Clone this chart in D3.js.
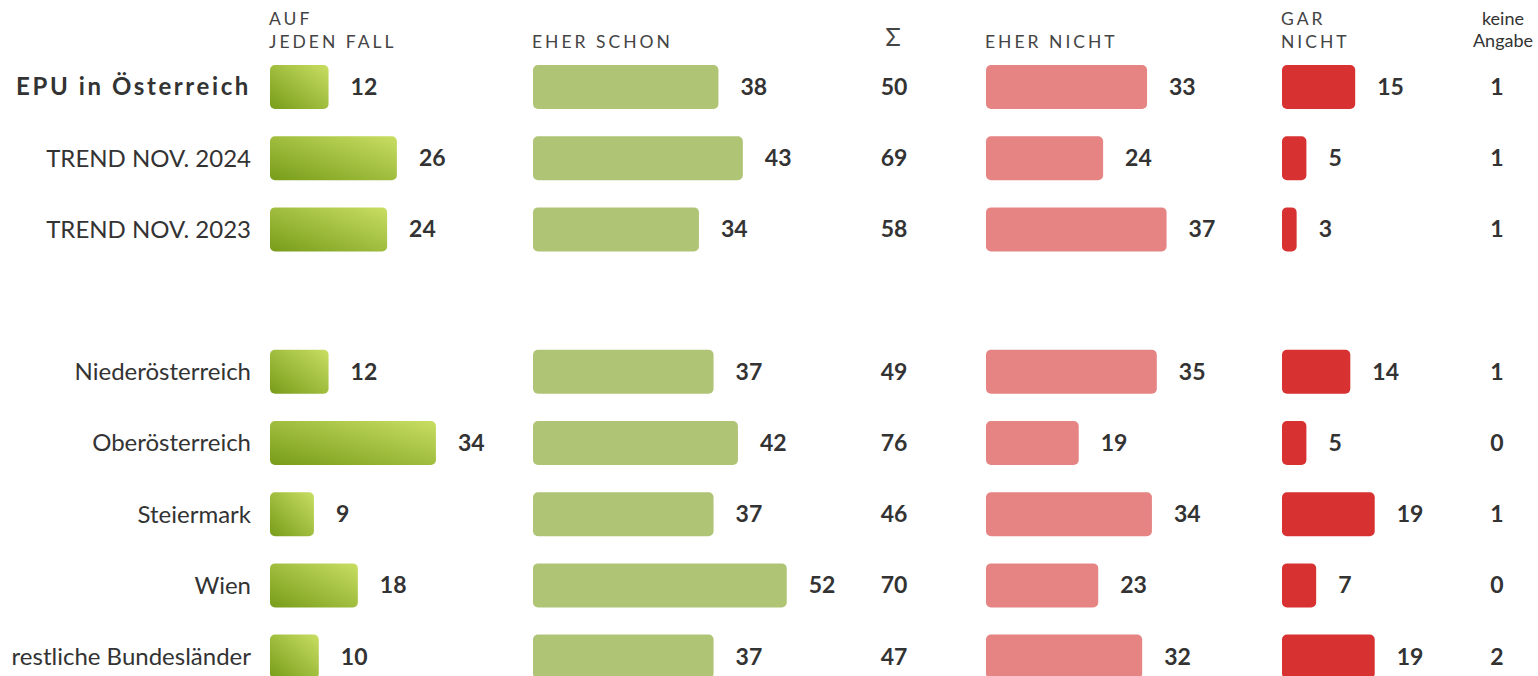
<!DOCTYPE html>
<html>
<head>
    <meta charset="UTF-8">
    <title>EPU Umfrage</title>
    <style>
        body {
            margin: 0;
            background-color: white;
            font-family: Lato, "Open Sans", sans-serif;
        }
        svg {
            display: block;
        }
        text {
            fill: #333;
        }
        .head {
            font-size: 17.5px;
            letter-spacing: 3px;
            fill: #444;
        }
        .rowlabel {
            font-size: 24px;
        }
        .val {
            font-size: 23px;
            font-weight: bold;
        }
    </style>
</head>
<body>
    <svg id="chart" width="1538" height="676"></svg>
    <script src="https://d3js.org/d3.v7.min.js"></script>
    <script>
        // Data
        var categories = ["EPU in Österreich", "TREND NOV. 2024", "TREND NOV. 2023", "",
            "Niederösterreich", "Oberösterreich", "Steiermark", "Wien", "restliche Bundesländer"];
        var aufJedenFall = [12, 26, 24, null, 12, 34, 9, 18, 10];
        var eherSchon = [38, 43, 34, null, 37, 42, 37, 52, 37];
        var summe = [50, 69, 58, null, 49, 76, 46, 70, 47];
        var eherNicht = [33, 24, 37, null, 35, 19, 34, 23, 32];
        var garNicht = [15, 5, 3, null, 14, 5, 19, 7, 19];
        var keineAngabe = [1, 1, 1, null, 1, 0, 1, 0, 2];

        var svg = d3.select("#chart");

        // one scale for all bar columns
        var x = d3.scaleLinear().domain([0, 100]).range([0, 488]);
        var y = d3.scaleBand().domain(d3.range(categories.length))
            .range([51.4, 692.2]).paddingInner(0.382).paddingOuter(0.191);

        // gradient for first column
        var defs = svg.append("defs");
        var grad = defs.append("linearGradient")
            .attr("id", "greenGrad")
            .attr("x1", "0%").attr("y1", "100%")
            .attr("x2", "100%").attr("y2", "0%");
        grad.append("stop").attr("offset", "0%").attr("stop-color", "#789c1a");
        grad.append("stop").attr("offset", "100%").attr("stop-color", "#c8de62");

        var columns = [
            { values: aufJedenFall, x0: 270, fill: "url(#greenGrad)", head: ["AUF", "JEDEN FALL"] },
            { values: eherSchon, x0: 533, fill: "#b0c476", head: ["EHER SCHON"] },
            { values: eherNicht, x0: 986, fill: "#e68383", head: ["EHER NICHT"] },
            { values: garNicht, x0: 1282, fill: "#d73131", head: ["GAR", "NICHT"] }
        ];

        // Headers
        columns.forEach(function(col) {
            var t = svg.append("text").attr("class", "head").attr("x", col.x0 - 1);
            col.head.forEach(function(line, i) {
                var off = col.head.length - 1 - i;
                t.append("tspan")
                    .attr("x", col.x0 - 1)
                    .attr("y", 48 - off * 23)
                    .text(line);
            });
        });

        svg.append("text")
            .attr("x", 893).attr("y", 46)
            .attr("text-anchor", "middle")
            .style("font-size", "25px")
            .style("fill", "#444")
            .text("Σ");

        svg.append("text")
            .attr("x", 1503).attr("y", 25)
            .attr("text-anchor", "middle")
            .style("font-size", "18px")
            .text("keine");
        svg.append("text")
            .attr("x", 1503).attr("y", 47)
            .attr("text-anchor", "middle")
            .style("font-size", "18px")
            .text("Angabe");

        // Row labels
        svg.selectAll("text.rowlabel")
            .data(categories)
            .enter().append("text")
            .attr("class", "rowlabel")
            .attr("x", 251)
            .attr("y", function(d, i) { return y(i) + y.bandwidth() / 2; })
            .attr("dy", "0.35em")
            .attr("text-anchor", "end")
            .style("font-weight", function(d, i) { return i === 0 ? "bold" : "normal"; })
            .style("letter-spacing", function(d, i) { return i === 0 ? "2.6px" : "0px"; })
            .text(function(d) { return d; });

        // Bars and value labels
        columns.forEach(function(col) {
            var g = svg.append("g");
            var rows = col.values.map(function(v, i) { return { v: v, i: i }; })
                .filter(function(d) { return d.v !== null; });

            g.selectAll("rect")
                .data(rows)
                .enter().append("rect")
                .attr("x", col.x0)
                .attr("y", function(d) { return y(d.i); })
                .attr("width", function(d) { return x(d.v); })
                .attr("height", y.bandwidth())
                .attr("rx", 5).attr("ry", 5)
                .attr("fill", col.fill);

            g.selectAll("text")
                .data(rows)
                .enter().append("text")
                .attr("class", "val")
                .attr("x", function(d) { return col.x0 + x(d.v) + 22; })
                .attr("y", function(d) { return y(d.i) + y.bandwidth() / 2; })
                .attr("dy", "0.35em")
                .text(function(d) { return d.v; });
        });

        // Sum and keine Angabe
        [[summe, 894], [keineAngabe, 1497]].forEach(function(c) {
            svg.append("g").selectAll("text")
                .data(c[0].map(function(v, i) { return { v: v, i: i }; })
                    .filter(function(d) { return d.v !== null; }))
                .enter().append("text")
                .attr("class", "val")
                .attr("x", c[1])
                .attr("y", function(d) { return y(d.i) + y.bandwidth() / 2; })
                .attr("dy", "0.35em")
                .attr("text-anchor", "middle")
                .text(function(d) { return d.v; });
        });
    </script>
</body>
</html>
